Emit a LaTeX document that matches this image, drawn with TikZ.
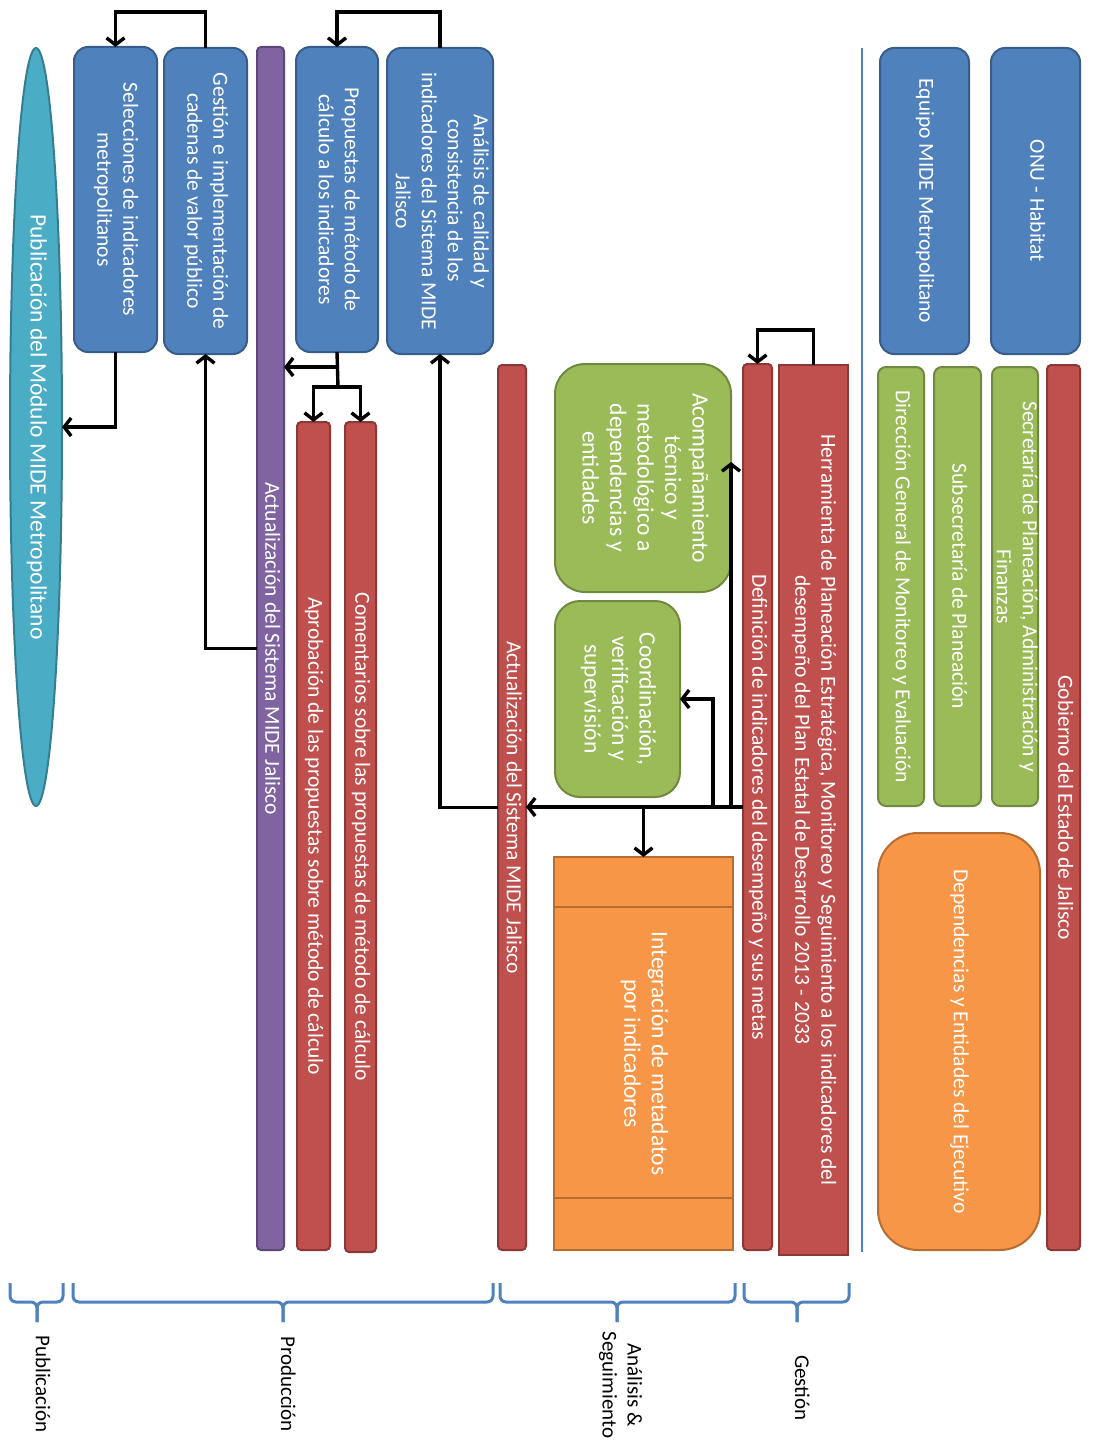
\documentclass[tikz,border=0pt]{standalone}
\usepackage{graphicx}
\usepackage{fontspec}
\setmainfont{Carlito}
\usetikzlibrary{arrows.meta,shapes.geometric}
\definecolor{bfill}{HTML}{4F81BD}\definecolor{bdraw}{HTML}{385D8A}
\definecolor{pfill}{HTML}{8064A2}\definecolor{pdraw}{HTML}{5C4776}
\definecolor{rfill}{HTML}{C0504D}\definecolor{rdraw}{HTML}{8C3836}
\definecolor{gfill}{HTML}{9BBB59}\definecolor{gdraw}{HTML}{71893F}
\definecolor{ofill}{HTML}{F79646}\definecolor{odraw}{HTML}{B66D31}
\definecolor{tfill}{HTML}{4BACC6}\definecolor{tdraw}{HTML}{357D91}
\newcommand{\rt}[1]{\makebox[0pt]{\rotatebox{-90}{\begin{tabular}{@{}c@{}}#1\end{tabular}}}}
\begin{document}
\begin{tikzpicture}[x=1pt,y=-1pt,
  box/.style={draw, line width=2pt, text=white, font=\fontsize{21.5}{26}\selectfont, inner sep=0pt, outer sep=0pt},
  bigtext/.style={font=\fontsize{23.5}{27.5}\selectfont},
  bluebox/.style={box, fill=bfill, draw=bdraw, rounded corners=14pt},
  purplebar/.style={box, fill=pfill, draw=pdraw, rounded corners=4pt},
  redbar/.style={box, fill=rfill, draw=rdraw, rounded corners=4pt},
  greenbox/.style={box, fill=gfill, draw=gdraw, rounded corners=8pt},
  orangebox/.style={box, fill=ofill, draw=odraw},
  tealell/.style={box, ellipse, fill=tfill, draw=tdraw},
  arr/.style={draw=black, line width=3.4pt, -{Straight Barb[length=7pt,width=18pt]}},
  conn/.style={draw=black, line width=3.4pt},
  brc/.style={draw=bfill, line width=3pt, rounded corners=6pt},
  lbl/.style={inner sep=0pt, text=black, font=\fontsize{21}{25}\selectfont}]
\useasboundingbox (0,0) rectangle (1092,1442);

% Publicacion
\node[tealell, bigtext, minimum width=52pt, minimum height=758pt] (pub) at (36,427) {\rt{Publicación del Módulo MIDE Metropolitano}};

% Produccion
\node[bluebox, minimum width=83pt, minimum height=305pt] (sel) at (115.5,199.5) {\rt{Selecciones de indicadores\\metropolitanos}};
\node[bluebox, minimum width=83pt, minimum height=306pt] (gest) at (205.5,201) {\rt{Gestión e implementación de\\cadenas de valor público}};
\node[purplebar, minimum width=27pt, minimum height=1203pt] (purp) at (270.5,648.5) {\rt{Actualización del Sistema MIDE Jalisco}};
\node[bluebox, minimum width=82pt, minimum height=305pt] (prop) at (337,199.5) {\rt{Propuestas de método de\\cálculo a los indicadores}};
\node[bluebox, minimum width=106pt, minimum height=306pt] (anal) at (440,201) {\rt{Análisis de calidad y\\consistencia de los\\indicadores del Sistema MIDE\\Jalisco}};
\node[redbar, minimum width=33pt, minimum height=828pt] (aprob) at (313.5,836) {\rt{Aprobación de las propuestas sobre método de cálculo}};
\node[redbar, minimum width=31pt, minimum height=830pt] (coment) at (360.5,837) {\rt{Comentarios sobre las propuestas de método de cálculo}};

% Analisis y seguimiento
\node[redbar, minimum width=28pt, minimum height=885pt] (act2) at (512,807.5) {\rt{Actualización del Sistema MIDE Jalisco}};
\node[greenbox, bigtext, rounded corners=30pt, minimum width=176pt, minimum height=228pt] (acomp) at (643,478) {\rt{Acompañamiento\\técnico y\\metodológico a\\dependencias y\\entidades}};
\node[greenbox, bigtext, rounded corners=25pt, minimum width=125pt, minimum height=196pt] (coord) at (617.5,699) {\rt{Coordinación,\\verificación y\\supervisión}};
\node[orangebox, bigtext, minimum width=179pt, minimum height=393pt] (integ) at (643.5,1053.5) {\rt{Integración de metadatos\\por indicadores}};
\draw[odraw, line width=2pt] ([yshift=-50pt]integ.north west) -- ([yshift=-50pt]integ.north east);
\draw[odraw, line width=2pt] ([yshift=52pt]integ.south west) -- ([yshift=52pt]integ.south east);

% Gestion
\node[redbar, minimum width=29pt, minimum height=886pt] (defi) at (757.5,807) {\rt{Definición de indicadores del desempeño y sus metas}};
\node[redbar, rounded corners=0pt, minimum width=69pt, minimum height=890pt] (herr) at (813.5,810) {\rt{Herramienta de Planeación Estratégica, Monitoreo y Seguimiento a los indicadores del\\desempeño del Plan Estatal de Desarrollo 2013 - 2033}};

% separator
\draw[bfill, line width=2.5pt] (862,48) -- (862,1252);

% actors
\node[bluebox, minimum width=89pt, minimum height=306pt] (equipo) at (924.5,201) {\rt{Equipo MIDE Metropolitano}};
\node[bluebox, minimum width=89pt, minimum height=306pt] (onu) at (1035.5,201) {\rt{ONU - Habitat}};
\node[greenbox, minimum width=46pt, minimum height=439pt] (dgme) at (901,586.5) {\rt{Dirección General de Monitoreo y Evaluación}};
\node[greenbox, minimum width=47pt, minimum height=439pt] (subs) at (957.5,586.5) {\rt{Subsecretaría de Planeación}};
\node[greenbox, minimum width=46pt, minimum height=439pt] (secr) at (1015,586.5) {\rt{Secretaría de Planeación, Administración y\\Finanzas}};
\node[redbar, minimum width=33pt, minimum height=885pt] (gob) at (1063.5,807.5) {\rt{Gobierno del Estado de Jalisco}};
\node[orangebox, rounded corners=40pt, minimum width=162pt, minimum height=417pt] (depe) at (959,1041.5) {\rt{Dependencias y Entidades del Ejecutivo}};

% connectors
\draw[arr] (gest.north) -- ++(0,-36) -| (sel.north);
\draw[arr] (sel.south) |- (pub.east);
\draw[arr] (purp.west) -| (gest.south);
\draw[arr] (anal.north) -- ++(0,-36) -| (prop.north);
\coordinate (j1) at (338,367);
\coordinate (j2) at (338,387);
\draw[conn] (prop.south) -- (j2);
\draw[arr] (j1) -- (j1 -| purp.east);
\draw[arr] (j2) -| (aprob.north);
\draw[arr] (j2) -| (coment.north);
\draw[arr] (herr.north) -- ++(0,-35) -| (defi.north);
\draw[arr] (defi.west) -- (defi.west -| act2.east);
\draw[arr] (act2.west) -| (anal.south);
\draw[arr] (defi.west -| integ.north) -- (integ.north);
\draw[arr] (defi.west -| 713,0) |- (coord.east);
\draw[arr] (defi.west -| acomp.east) -- ([yshift=16pt]acomp.east);

% braces
\foreach \a/\b/\m in {10/63/37, 73/493/283, 500/735/617, 744/849/797} {
  \draw[brc] (\a,1283) -- (\a,1302) -- (\m,1302) -- (\m,1322);
  \draw[brc] (\b,1283) -- (\b,1302) -- (\m,1302) -- (\m,1322);
}
\node[lbl] (lpub) at (41,1384) {\rt{Publicación}};
\node[lbl] (lprod) at (286,1384) {\rt{Producción}};
\node[lbl] (lana) at (620,1385) {\rt{Análisis \&\\Seguimiento}};
\node[lbl] (lges) at (800,1388) {\rt{Gestión}};
\end{tikzpicture}
\end{document}
